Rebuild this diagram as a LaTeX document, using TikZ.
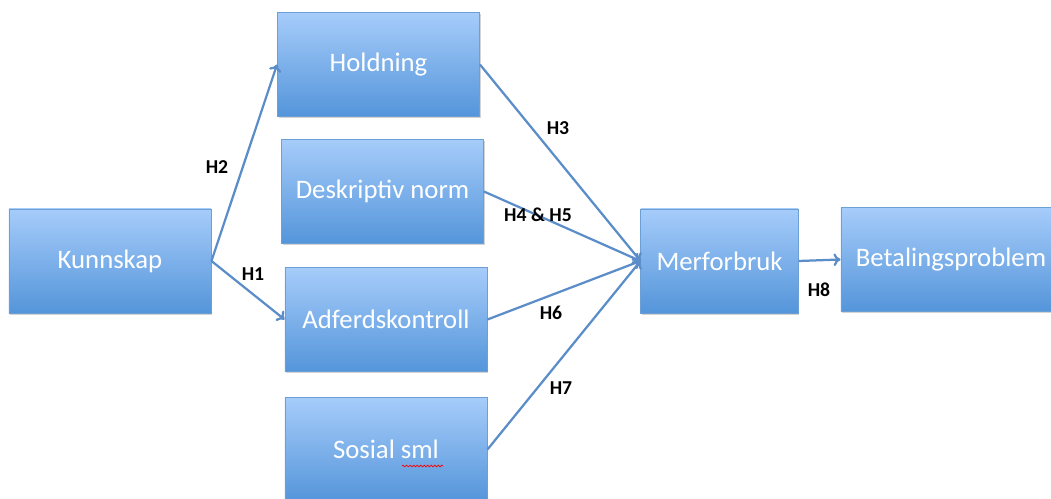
\documentclass[tikz,border=0pt]{standalone}
\usepackage{fontspec}
\setmainfont{Carlito}
\usetikzlibrary{arrows.meta,shadows,decorations.pathmorphing}
\definecolor{boxtop}{HTML}{A6CCFA}
\definecolor{boxbottom}{HTML}{5495DA}
\definecolor{boxline}{HTML}{6C9FD6}
\definecolor{arrowblue}{HTML}{5B8DC9}
\begin{document}
\begin{tikzpicture}[x=0.025cm, y=-0.025cm,
  box/.style={draw=boxline, line width=0.6pt, rectangle, top color=boxtop, bottom color=boxbottom, text=white, font=\fontsize{19}{22}\selectfont, drop shadow={opacity=0.35, shadow xshift=0.8pt, shadow yshift=-1.2pt}, minimum width=5.05cm, minimum height=2.6cm},
  hyp/.style={font=\fontsize{14}{16}\selectfont\bfseries},
  link/.style={-{To[length=5pt, width=9pt]}, draw=arrowblue, line width=1.6pt}]
\clip (0,0) rectangle (1051,499);
\node[box] (kunnskap) at (110, 261) {Kunnskap};
\node[box] (holdning) at (378.5, 64.5) {Holdning};
\node[box] (deskriptiv) at (382.5, 191.5) {Deskriptiv norm};
\node[box] (adferd) at (386, 319.5) {Adferdskontroll};
\node[box] (sosial) at (386, 449.5) {Sosial sml};
\node[box, minimum width=3.93cm] (merforbruk) at (719.5, 261) {Merforbruk};
\node[box, minimum width=5.5cm] (betaling) at (951, 259.5) {Betalingsproblem};
% spell check mark
\draw[red, line width=0.5pt, decorate, decoration={snake, amplitude=0.6pt, segment length=2.5pt}] (402, 466) -- (443, 466);
\draw[link] (kunnskap.east) -- (holdning.west);
\draw[link] (kunnskap.east) -- (adferd.west);
\draw[link] (holdning.east) -- (merforbruk.west);
\draw[link] (deskriptiv.east) -- (merforbruk.west);
\draw[link] (adferd.east) -- (merforbruk.west);
\draw[link] (sosial.east) -- (merforbruk.west);
\draw[link] (merforbruk.east) -- (betaling.west);
\node[hyp] (h2) at (217, 167) {H2};
\node[hyp] (h1) at (253, 274) {H1};
\node[hyp] (h3) at (558, 128) {H3};
\node[hyp] (h45) at (538, 215) {H4 \& H5};
\node[hyp] (h6) at (551, 313) {H6};
\node[hyp] (h7) at (561, 388) {H7};
\node[hyp] (h8) at (819, 290) {H8};
\end{tikzpicture}
\end{document}
